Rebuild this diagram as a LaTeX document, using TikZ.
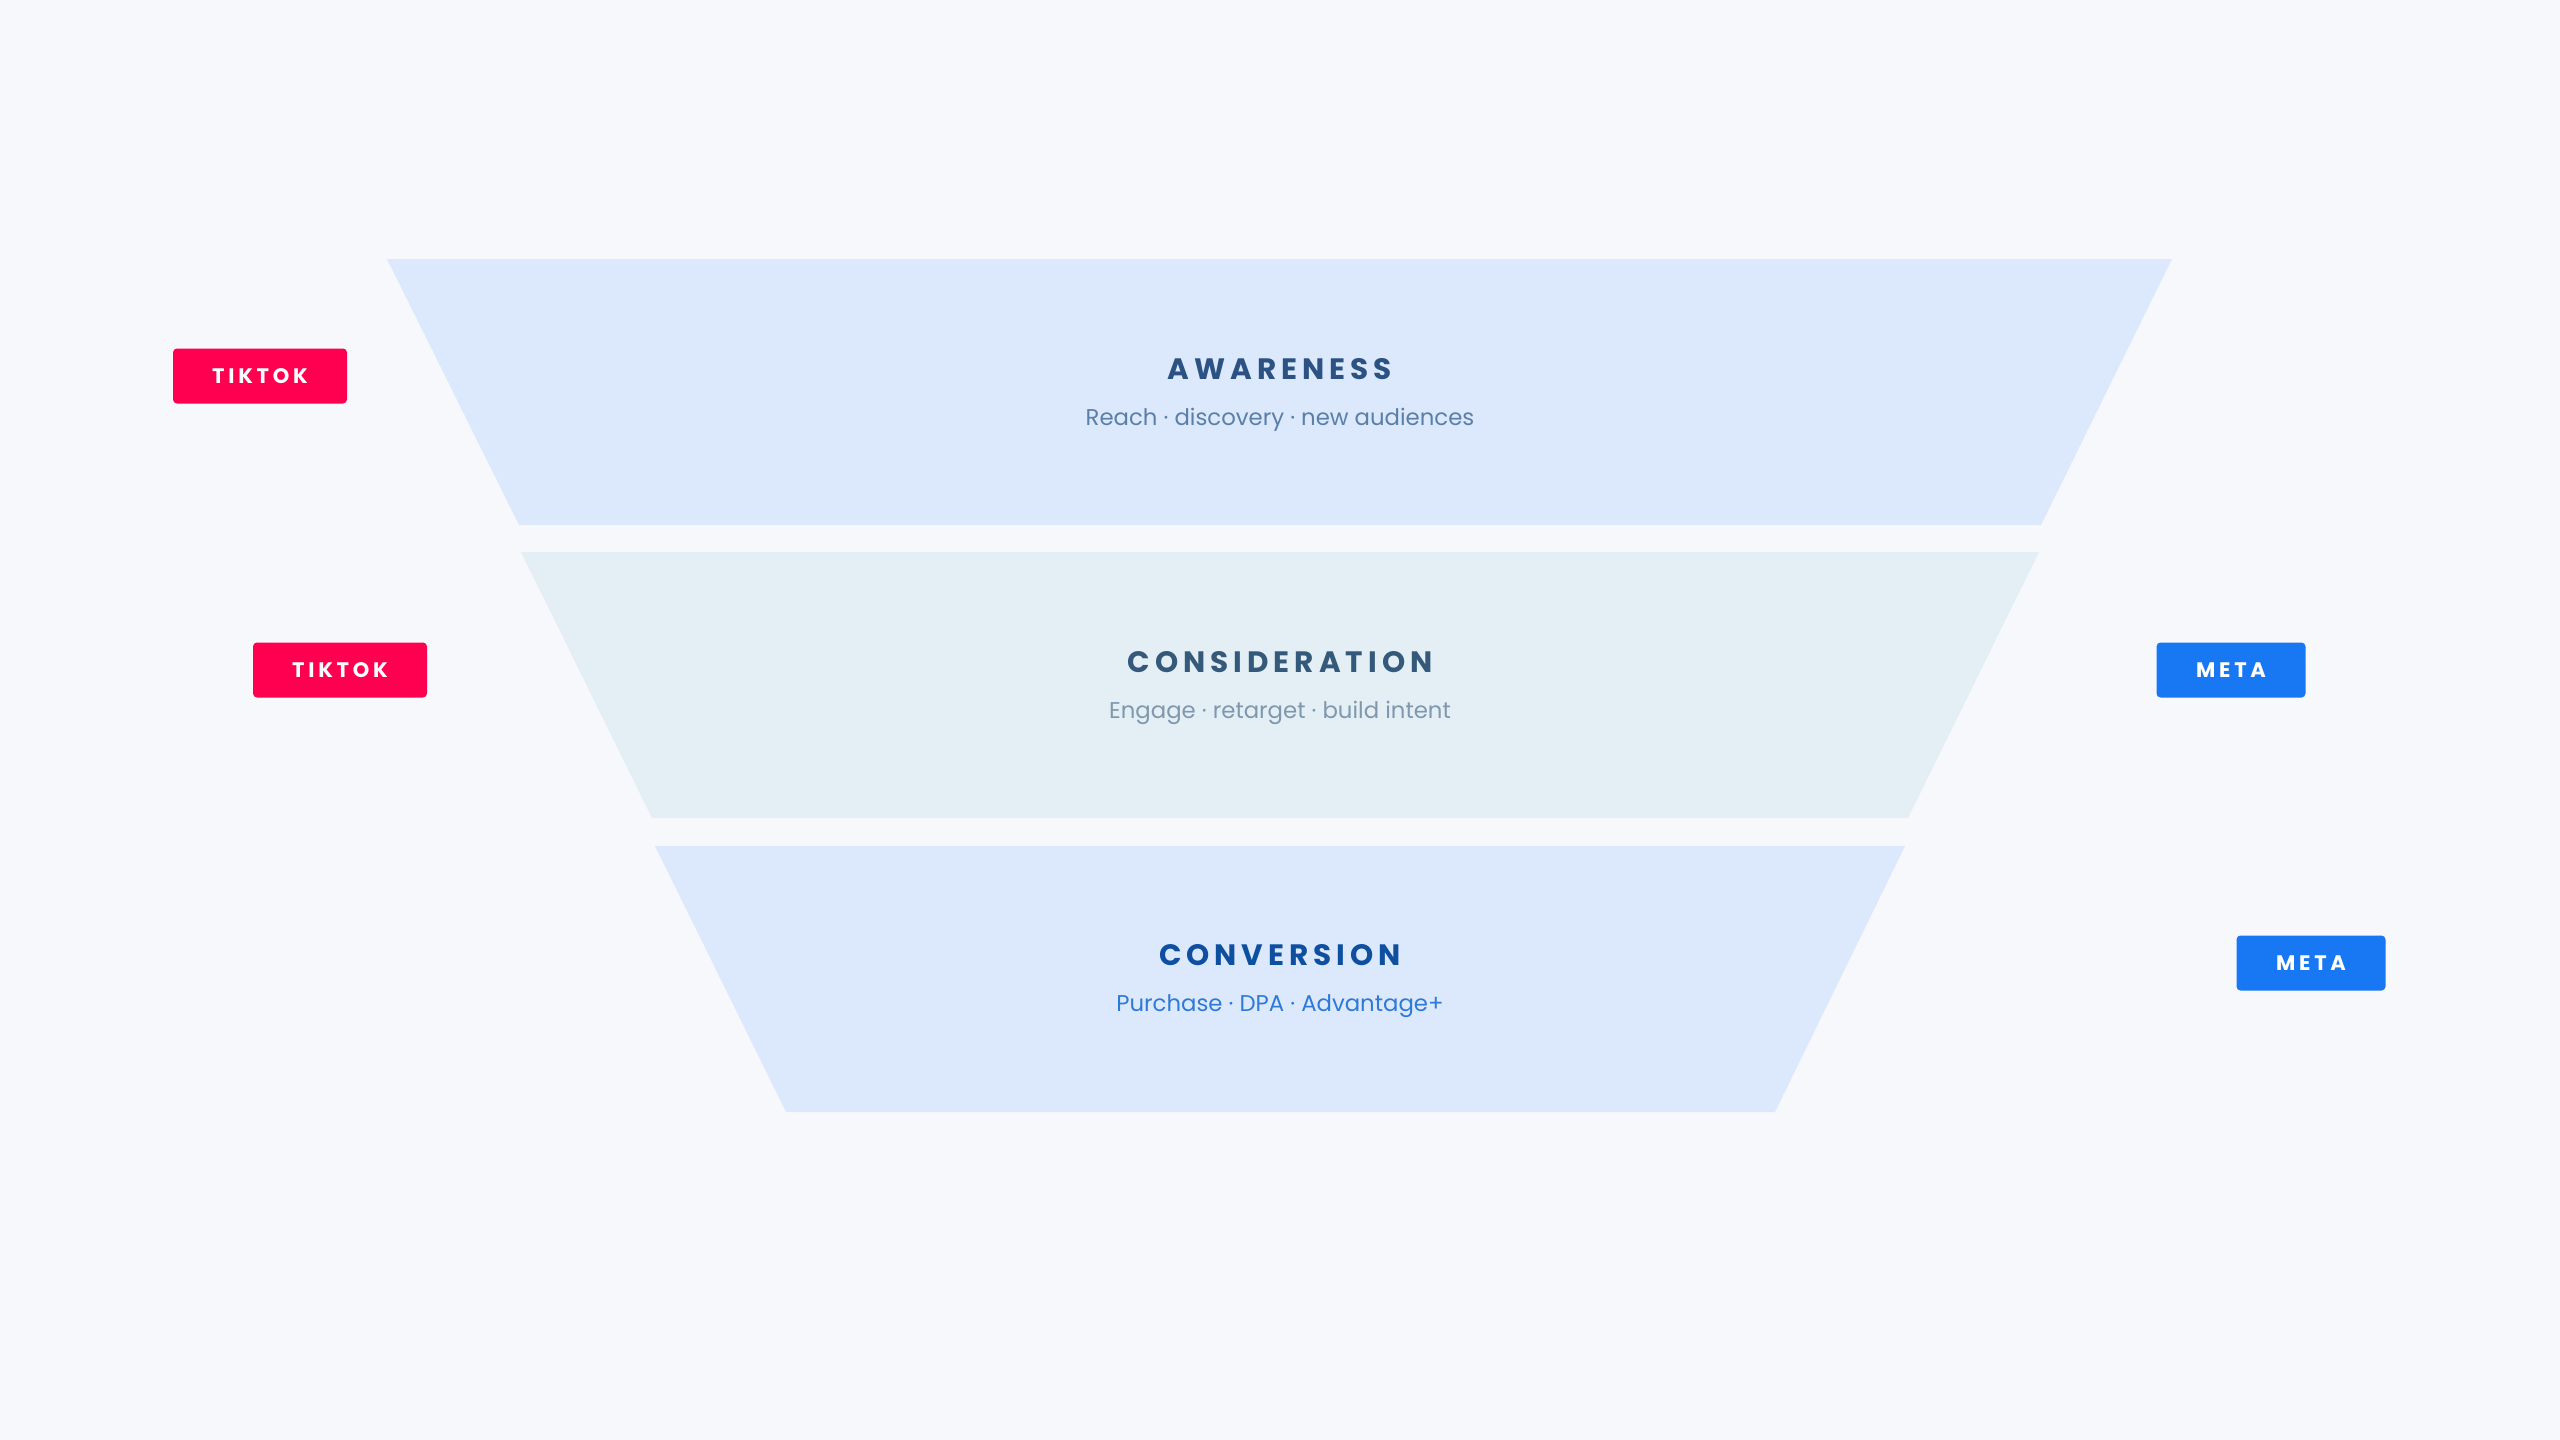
\documentclass[tikz,border=0pt]{standalone}
\usepackage{fontspec}
\setmainfont{Poppins}
\definecolor{bg}{HTML}{F7F8FC}
\definecolor{fillA}{HTML}{DCE9FD}
\definecolor{fillB}{HTML}{E3EEF5}
\definecolor{fillC}{HTML}{DCE9FD}
\definecolor{titleA}{HTML}{2B5283}
\definecolor{titleB}{HTML}{35597A}
\definecolor{titleC}{HTML}{0E4FA0}
\definecolor{subA}{HTML}{5A7FA8}
\definecolor{subB}{HTML}{7F98AE}
\definecolor{subC}{HTML}{2F7AD6}
\definecolor{tiktok}{HTML}{FF0050}
\definecolor{meta}{HTML}{1877F2}
\tikzset{
  stagetitle/.style={inner sep=0pt, anchor=center, font=\fontsize{29.5}{34}\selectfont\bfseries\addfontfeature{LetterSpace=17}},
  stagesub/.style={inner sep=0pt, anchor=center, font=\fontsize{22.8}{28}\selectfont},
  badge/.style={rounded corners=4pt, minimum height=55pt, inner sep=0pt, text=white,
    font=\fontsize{21}{24}\selectfont\bfseries\addfontfeature{LetterSpace=18}},
  tiktokbadge/.style={badge, fill=tiktok, minimum width=174pt},
  metabadge/.style={badge, fill=meta, minimum width=149pt},
}
\begin{document}
\begin{tikzpicture}[x=1pt,y=-1pt]
\fill[bg] (0,0) rectangle (2560,1440);
\useasboundingbox (0,0) rectangle (2560,1440);
% stages
\fill[fillA] (387,259) -- (2172,259) -- (2041,525) -- (519,525) -- cycle;
\fill[fillB] (521,552) -- (2039,552) -- (1908,818) -- (652,818) -- cycle;
\fill[fillC] (655,846) -- (1905,846) -- (1775,1112) -- (786,1112) -- cycle;
% texts
\node[stagetitle, text=titleA] (tA) at (1280,369) {AWARENESS};
\node[stagesub, text=subA] (sA) at (1280,420) {Reach · discovery · new audiences};
\node[stagetitle, text=titleB] (tB) at (1280,662) {CONSIDERATION};
\node[stagesub, text=subB] (sB) at (1280,713) {Engage · retarget · build intent};
\node[stagetitle, text=titleC] (tC) at (1280,955) {CONVERSION};
\node[stagesub, text=subC] (sC) at (1280,1006) {Purchase · DPA · Advantage+};
% badges
\node[tiktokbadge] (b1) at (260,376) {TIKTOK};
\node[tiktokbadge] (b2) at (340,670) {TIKTOK};
\node[metabadge] (b3) at (2231,670) {META};
\node[metabadge] (b4) at (2311,963) {META};
\end{tikzpicture}
\end{document}
